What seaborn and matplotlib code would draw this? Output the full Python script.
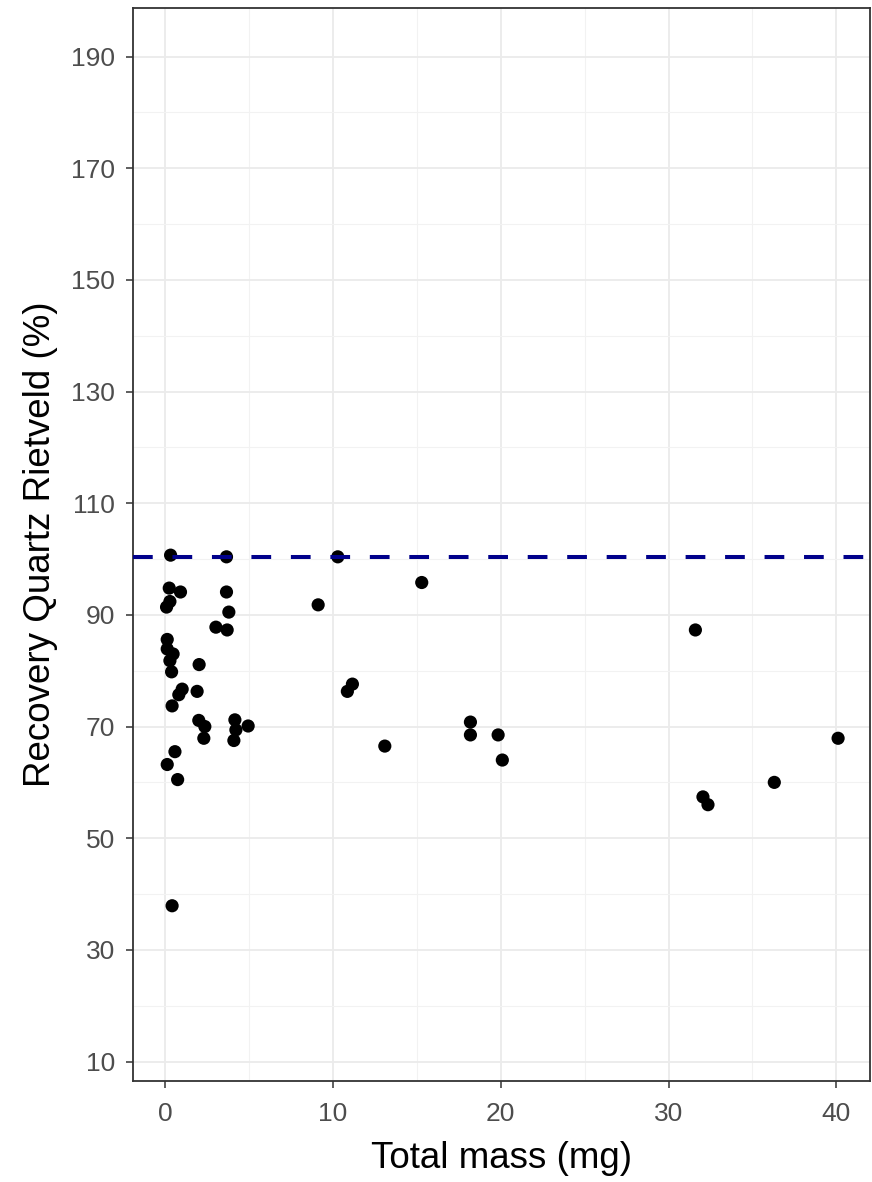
import numpy as np
import pandas as pd
import seaborn as sns
import matplotlib.pyplot as plt
from matplotlib.ticker import MultipleLocator

# values
total_mass = [0.34, 3.67, 10.3, 0.26, 0.93, 0.30, 0.10, 3.67, 3.81, 3.04,
              3.71, 0.14, 0.14, 0.49, 0.30, 0.40, 2.04, 1.92, 1.03, 0.83,
              0.43, 2.02, 2.38, 2.32, 4.17, 4.23, 4.96, 4.11, 0.60, 0.14,
              0.76, 0.43, 9.13, 15.3, 11.17, 10.87, 13.1, 18.2, 18.2, 19.85,
              20.1, 31.6, 32.05, 32.35, 36.3, 40.1]
recovery = [100.7, 100.4, 100.4, 94.8, 94.1, 92.4, 91.4, 94.1, 90.5, 87.8,
            87.3, 85.6, 83.9, 83.0, 81.8, 79.8, 81.1, 76.3, 76.7, 75.7,
            73.7, 71.1, 70.0, 67.9, 71.2, 69.4, 70.1, 67.5, 65.5, 63.2,
            60.5, 37.9, 91.8, 95.8, 77.6, 76.3, 66.5, 70.8, 68.5, 68.5,
            64.0, 87.3, 57.4, 56.0, 60.0, 67.9]
ref_line = 100.4
y_ticks = list(range(10, 200, 20))
x_ticks = [0, 10, 20, 30, 40]

df = pd.DataFrame({'mass': total_mass, 'recovery': recovery})

sns.set_style('white')
plt.rcParams['font.family'] = ['Liberation Sans', 'DejaVu Sans']

fig = plt.figure(figsize=(8.72, 11.82), dpi=100)
ax = fig.add_axes([0.1525, 0.0854, 0.8452, 0.9078])

sns.scatterplot(data=df, x='mass', y='recovery', color='black', s=90,
                edgecolor='none', ax=ax, zorder=3)
ax.axhline(ref_line, color='darkblue', lw=2.9, linestyle=(0, (4.9, 4.9)), zorder=4)

ax.set_xlim(-1.9, 42.0)
ax.set_ylim(6.5, 198.7)
ax.set_xticks(x_ticks)
ax.set_yticks(y_ticks)
ax.xaxis.set_minor_locator(MultipleLocator(5))
ax.yaxis.set_minor_locator(MultipleLocator(10))
ax.grid(which='major', color='#EBEBEB', lw=1.3, zorder=0)
ax.grid(which='minor', color='#F2F2F2', lw=0.8, zorder=0)
ax.set_axisbelow(True)

for sp in ax.spines.values():
    sp.set_color('#333333')
    sp.set_linewidth(1.3)

ax.tick_params(axis='both', which='major', length=5, width=1.1, color='#333333',
               labelsize=19, labelcolor='#4D4D4D', bottom=True, left=True)
ax.tick_params(axis='y', which='major', pad=8)
ax.tick_params(axis='x', which='major', pad=10)
ax.tick_params(axis='both', which='minor', length=0)

ax.set_xlabel('Total mass (mg)', fontsize=26.5, color='black', labelpad=11)
ax.set_ylabel('Recovery Quartz Rietveld (%)', fontsize=26.5, color='black', labelpad=9)

fig.savefig('out.png', dpi=100)
